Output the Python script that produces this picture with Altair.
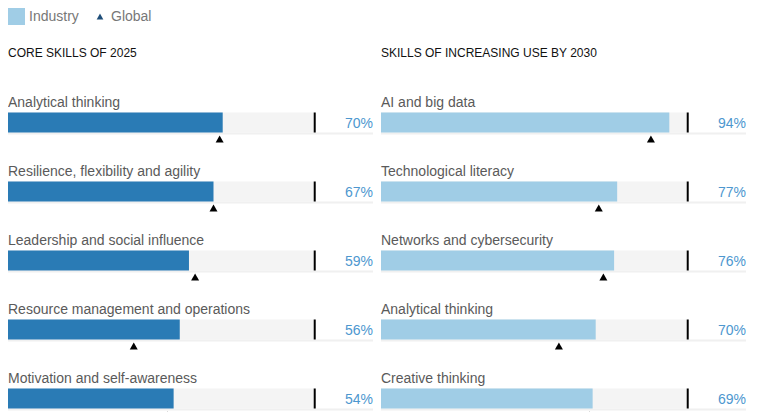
import altair as alt
import pandas as pd

FONT = "Liberation Sans"

legend_items = ["Industry", "Global"]
legend_colors = ["#a0cde6", "#1f4e79"]
legend_shapes = ["square", "triangle-up"]
legend_sizes = [289, 45]

left_title = "CORE SKILLS OF 2025"
left_skills = [
    "Analytical thinking",
    "Resilience, flexibility and agility",
    "Leadership and social influence",
    "Resource management and operations",
    "Motivation and self-awareness",
]
left_industry = [70, 67, 59, 56, 54]
left_global = [69, 67, 61, 41, 52]

right_title = "SKILLS OF INCREASING USE BY 2030"
right_skills = [
    "AI and big data",
    "Technological literacy",
    "Networks and cybersecurity",
    "Analytical thinking",
    "Creative thinking",
]
right_industry = [94, 77, 76, 70, 69]
right_global = [88, 71, 72.5, 58, 68]


def panel(title, skills, industry, glob, bar_color, with_legend):
    df = pd.DataFrame({"skill": skills, "industry": industry, "global": glob})
    df["label"] = [f"{v}%" for v in industry]
    x_scale = alt.Scale(domain=[0, 119], nice=False, zero=True)
    y_enc = alt.Y("skill:N", sort=skills, axis=None,
                  scale=alt.Scale(paddingInner=0, paddingOuter=0))
    base = alt.Chart(df)

    line = base.mark_bar(height=2, yOffset=11, color="#f0f0f0").encode(
        x=alt.XDatum(0, axis=None), x2=alt.X2Datum(119), y=y_enc)
    bg = base.mark_bar(height=20, color="#f4f4f4").encode(
        x=alt.XDatum(0, axis=None), x2=alt.X2Datum(100), y=y_enc)
    bar = base.mark_bar(height=20, color=bar_color).encode(
        x=alt.X("industry:Q", scale=x_scale, axis=None), y=y_enc)
    tick = base.mark_tick(color="black", opacity=1, thickness=2, size=20).encode(
        x=alt.XDatum(100, axis=None), y=y_enc)
    tri = base.mark_point(shape="triangle-up", filled=True, color="black",
                          opacity=1, size=64, yOffset=16.5).encode(
        x=alt.X("global:Q", axis=None), y=y_enc)
    lab = base.mark_text(align="left", baseline="alphabetic", yOffset=-16,
                         fontSize=14, color="#5a5a5a", font=FONT).encode(
        x=alt.XDatum(0, axis=None), y=y_enc, text="skill:N")
    pct = base.mark_text(align="right", baseline="alphabetic", yOffset=5,
                         fontSize=14, color="#4d97cf", font=FONT).encode(
        x=alt.XDatum(119, axis=None), y=y_enc, text="label:N")

    layers = [line, bg, bar, tick, tri, lab, pct]
    if with_legend:
        ldf = pd.DataFrame({"item": legend_items})
        leg = alt.Legend(title=None, symbolOpacity=1)
        dummy = alt.Chart(ldf).mark_point(filled=True, opacity=0).encode(
            color=alt.Color("item:N", scale=alt.Scale(domain=legend_items, range=legend_colors), legend=leg),
            shape=alt.Shape("item:N", scale=alt.Scale(domain=legend_items, range=legend_shapes), legend=leg),
            size=alt.Size("item:N", scale=alt.Scale(domain=legend_items, range=legend_sizes), legend=leg),
        )
        layers.append(dummy)

    return alt.layer(*layers).properties(
        width=365,
        height=alt.Step(69),
        title=alt.TitleParams(title, anchor="start", fontSize=12, fontWeight="normal",
                              color="#111111", font=FONT, offset=16, baseline="bottom"),
    )


chart = alt.hconcat(
    panel(left_title, left_skills, left_industry, left_global, "#2a7bb5", True),
    panel(right_title, right_skills, right_industry, right_global, "#a0cde6", False),
    spacing=8,
).properties(
    padding={"left": 0, "top": 0, "right": 0, "bottom": 0}
).configure_view(
    strokeWidth=0
).configure_legend(
    orient="top", direction="horizontal", labelFontSize=14, labelColor="#777777",
    labelFont=FONT, labelOffset=4, columnPadding=14, offset=22, padding=0,
    symbolStrokeWidth=0
)

chart.save("out.html", embed_options={"renderer": "svg", "actions": False})
